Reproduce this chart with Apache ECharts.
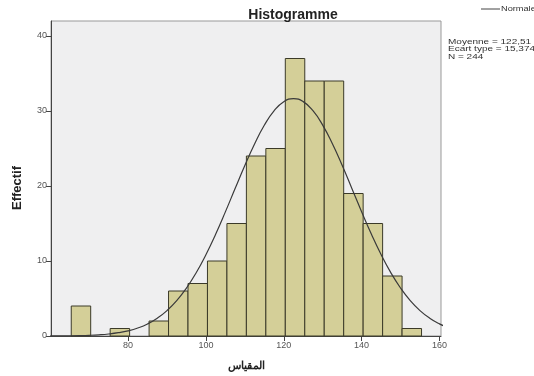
<!DOCTYPE html>
<html>
<head>
<meta charset="utf-8">
<script src="https://cdn.jsdelivr.net/npm/echarts@6/dist/echarts.min.js"></script>
<style>html,body{margin:0;padding:0;background:#fff;}#c{width:534px;height:376px;}</style>
</head>
<body>
<div id="c"></div>
<script>
// Histogram bins (start of each bin, width 5) and counts
const binStarts = [65.4, 70.4, 75.4, 80.4, 85.4, 90.4, 95.4, 100.4, 105.4, 110.4, 115.4, 120.4, 125.4, 130.4, 135.4, 140.4, 145.4, 150.4];
const counts    = [4, 0, 1, 0, 2, 6, 7, 10, 15, 24, 25, 37, 34, 34, 19, 15, 8, 1];
const binWidth = 5;
// Normal curve points
const curveX = [60, 62.5, 65, 67.5, 70, 72.5, 75, 77.5, 80, 82.5, 85, 87.5, 90, 92.5, 95, 97.5, 100, 102.5, 105, 107.5, 110, 112.5, 115, 117.5, 120, 122.5, 125, 127.5, 130, 132.5, 135, 137.5, 140, 142.5, 145, 147.5, 150, 152.5, 155, 157.5, 160, 162.5];
const curveY = [0.01, 0.02, 0.03, 0.05, 0.09, 0.16, 0.27, 0.44, 0.69, 1.07, 1.61, 2.37, 3.39, 4.71, 6.39, 8.43, 10.84, 13.57, 16.55, 19.66, 22.74, 25.61, 28.10, 30.02, 31.24, 31.66, 31.25, 30.04, 28.12, 25.63, 22.76, 19.68, 16.58, 13.60, 10.86, 8.45, 6.40, 4.72, 3.39, 2.37, 1.62, 1.07];
const xTicks = [80, 100, 120, 140, 160];
const yTicks = [0, 10, 20, 30, 40];
const statsLines = ['Moyenne = 122,51', 'Ecart type = 15,374', 'N = 244'];

const barData = [];
binStarts.forEach((s, i) => { if (counts[i] > 0) barData.push([s, s + binWidth, counts[i]]); });
const lineData = curveX.map((x, i) => [x, curveY[i]]);

const chart = echarts.init(document.getElementById('c'), null, {renderer: 'canvas'});
const font = 'Arial, "Liberation Sans", sans-serif';
chart.setOption({
  animation: false,
  backgroundColor: '#ffffff',
  title: {
    text: 'Histogramme', left: 288, top: 3, textAlign: 'center',
    textStyle: {fontFamily: font, fontSize: 14, fontWeight: 'bold', color: '#222'}
  },
  grid: {left: 51, right: 93, top: 21, bottom: 39, show: true, backgroundColor: '#efeff0', borderColor: '#999', borderWidth: 1},
  xAxis: {
    type: 'value', min: 60.2, max: 160.4,
    name: 'المقياس', nameLocation: 'middle', nameGap: 24,
    nameTextStyle: {fontFamily: font, fontSize: 11, fontWeight: 'bold', color: '#222'},
    axisLine: {show: true, lineStyle: {color: '#444', width: 1}},
    axisTick: {show: true, length: 5, lineStyle: {color: '#444'}, customValues: xTicks},
    axisLabel: {customValues: xTicks, fontFamily: font, fontSize: 9, color: '#555', margin: 5},
    splitLine: {show: false}
  },
  yAxis: {
    type: 'value', min: 0, max: 42,
    axisLine: {show: true, lineStyle: {color: '#444', width: 1}},
    axisTick: {show: true, length: 5, lineStyle: {color: '#444'}, customValues: yTicks},
    axisLabel: {customValues: yTicks, fontFamily: font, fontSize: 9, color: '#555', margin: 4},
    splitLine: {show: false}
  },
  graphic: [
    {type: 'text', x: 17, y: 188, rotation: Math.PI / 2,
     style: {text: 'Effectif', font: 'bold 13px ' + font, fill: '#222', align: 'center', verticalAlign: 'middle'}},
    {type: 'line', shape: {x1: 481, y1: 9, x2: 500, y2: 9}, style: {stroke: '#444', lineWidth: 1}},
    {type: 'text', x: 501, y: 9, scaleX: 1.15,
     style: {text: 'Normale', font: '8px ' + font, fill: '#333', verticalAlign: 'middle'}},
    {type: 'text', x: 448, y: 38, scaleX: 1.25,
     style: {text: statsLines.join('\n'), font: '8px ' + font, fill: '#333', lineHeight: 7.5}}
  ],
  series: [
    {
      type: 'custom',
      data: barData,
      encode: {x: [0, 1], y: 2},
      renderItem: function (params, api) {
        const p0 = api.coord([api.value(0), 0]);
        const p1 = api.coord([api.value(1), api.value(2)]);
        return {
          type: 'rect',
          shape: {x: p0[0], y: p1[1], width: p1[0] - p0[0], height: p0[1] - p1[1]},
          style: {fill: '#d4cf98', stroke: '#3b3a28', lineWidth: 1}
        };
      },
      z: 2
    },
    {
      type: 'line', data: lineData, smooth: true, showSymbol: false, symbol: 'none', clip: true,
      lineStyle: {color: '#3a3a3a', width: 1.2}, z: 3
    }
  ]
});
</script>
</body>
</html>
